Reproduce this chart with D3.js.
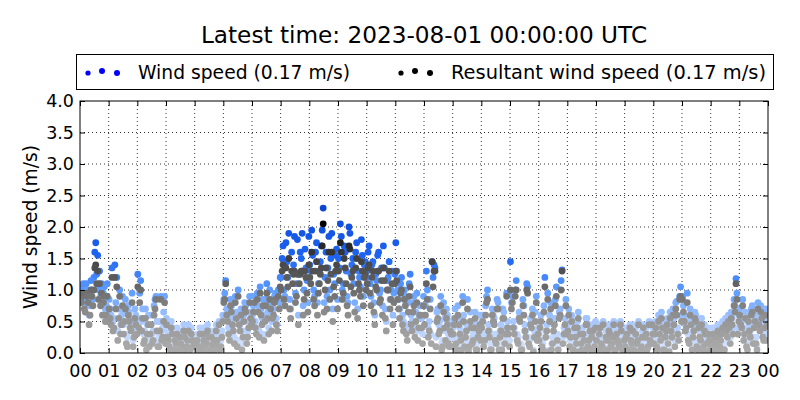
<!DOCTYPE html>
<html><head><meta charset="utf-8">
<script src="https://cdn.jsdelivr.net/npm/d3@7"></script>
<style>body{margin:0;background:#fff}svg{display:block}text{font-family:"DejaVu Sans",sans-serif}</style>
</head><body>
<svg id="c" width="800" height="400"></svg>
<script>
const titleText = "Latest time: 2023-08-01 00:00:00 UTC";
const seriesNames = ["Wind speed (0.17 m/s)", "Resultant wind speed (0.17 m/s)"];
const xTickLabels = ["00","01","02","03","04","05","06","07","08","09","10","11","12","13","14","15","16","17","18","19","20","21","22","23","00"];
const yTicks = [0,0.5,1.0,1.5,2.0,2.5,3.0,3.5,4.0];
const stepMinutes = 4;
// wind speed, samples at minute 0,4,8,... (15 per hour)
const windSpeed = [
0.95,1.05,0.85,1.1,0.9,0.75,1.0,1.2,1.75,1.55,1.3,1.1,0.95,0.7,1.1,
0.85,0.6,0.5,1.4,1.2,0.7,0.45,0.9,0.65,0.3,0.75,0.55,0.95,0.4,0.6,
1.25,0.95,0.5,0.3,0.7,0.45,0.2,0.6,0.35,0.85,0.5,0.25,0.9,0.4,0.9,
0.55,0.3,0.15,0.4,0.1,0.25,0.05,0.35,0.2,0.45,0.1,0.3,0.15,0.4,0.2,
0.15,0.3,0.05,0.2,0.4,0.1,0.25,0.35,0.05,0.15,0.3,0.45,0.2,0.1,0.35,
0.85,1.15,0.6,0.3,0.75,0.45,0.9,0.2,0.55,0.7,0.35,0.8,0.25,0.5,0.65,
0.6,0.9,0.4,0.75,1.05,0.55,0.3,0.85,0.65,1.0,0.5,0.7,0.95,0.45,0.8,
1.2,1.7,0.9,1.45,1.9,0.7,1.3,1.85,1.1,0.6,1.6,1.9,1.0,1.35,0.8,
1.4,1.95,1.0,1.6,0.8,1.3,1.7,2.3,1.2,0.9,1.85,1.5,0.7,1.1,1.65,
1.5,2.05,1.0,1.7,1.3,0.8,1.9,1.4,1.1,1.6,0.7,1.2,1.8,0.9,1.45,
1.3,1.7,0.9,1.45,0.6,1.15,1.6,1.0,0.75,1.35,0.5,1.2,0.85,1.3,0.95,
1.75,1.0,0.7,1.2,0.5,0.9,0.35,1.1,0.6,0.8,0.4,0.95,0.55,0.75,0.3,
0.6,1.3,0.4,0.85,1.45,1.4,0.25,0.7,0.5,0.15,0.8,0.35,0.6,0.2,0.45,
0.4,0.7,0.15,0.55,0.3,0.9,0.2,0.45,0.05,0.65,0.25,0.5,0.1,0.35,0.6,
0.5,0.2,0.75,1.0,0.35,0.1,0.6,0.3,0.85,0.15,0.45,0.7,0.25,0.95,0.4,
1.45,0.9,0.4,1.15,0.25,0.6,0.1,0.75,0.35,1.05,0.2,0.5,0.05,0.65,0.3,
0.3,0.6,0.15,1.2,0.45,0.05,0.8,0.25,0.55,1.05,0.1,0.7,1.32,0.4,0.85,
0.45,0.2,0.6,0.1,0.35,0.5,0.05,0.25,0.4,0.15,0.55,0.3,0.1,0.45,0.2,
0.3,0.1,0.45,0.2,0.05,0.35,0.15,0.4,0.25,0.5,0.1,0.3,0.2,0.45,0.05,
0.2,0.4,0.1,0.3,0.45,0.05,0.25,0.5,0.15,0.35,0.1,0.4,0.2,0.3,0.48,
0.25,0.5,0.1,0.4,0.65,0.15,0.35,0.55,0.05,0.45,0.7,0.2,0.82,0.3,1.05,
0.9,0.6,0.5,0.3,0.7,0.15,0.45,0.6,0.1,0.35,0.55,0.2,0.4,0.05,0.3,
0.2,0.4,0.1,0.35,0.05,0.3,0.5,0.15,0.45,0.6,0.25,0.55,0.85,1.18,0.4,
0.7,0.5,0.3,0.65,0.15,0.45,0.7,0.25,0.6,0.1,0.55,0.75,0.35,0.5,0.3
];
// wind speed, samples at minute 2,6,10,... (15 per hour)
const windSpeedOffset = [
0.9,1.1,0.8,1.0,0.6,1.15,0.85,1.6,1.25,1.0,0.9,0.8,1.05,0.75,0.65,
0.7,1.35,0.55,0.8,0.35,1.0,0.6,0.45,0.85,0.25,0.65,0.5,0.2,0.7,0.45,
0.55,1.15,0.7,0.35,0.15,0.6,0.45,0.3,0.75,0.9,0.2,0.5,0.35,0.65,0.25,
0.35,0.2,0.5,0.1,0.3,0.4,0.15,0.25,0.05,0.35,0.2,0.45,0.1,0.3,0.25,
0.25,0.1,0.4,0.2,0.3,0.05,0.45,0.15,0.35,0.25,0.1,0.3,0.5,0.2,0.6,
0.95,0.7,0.4,0.85,0.55,0.25,0.65,1.0,0.45,0.15,0.6,0.75,0.35,0.9,0.55,
0.75,0.5,0.95,0.35,0.7,0.85,0.6,1.1,0.4,0.8,0.65,0.9,0.55,1.0,1.2,
1.5,1.0,1.75,1.2,0.85,1.6,1.4,0.95,1.8,1.25,1.5,0.75,1.65,1.15,1.85,
1.3,1.55,0.9,1.75,1.1,1.45,1.95,0.8,1.6,1.35,1.0,1.9,1.25,1.55,0.85,
1.35,1.85,1.1,1.6,0.9,2.0,1.25,1.5,0.8,1.75,1.3,1.05,1.55,1.4,1.2,
1.6,1.1,1.4,0.8,1.25,1.55,0.95,1.35,1.7,0.7,1.15,1.45,1.0,0.6,1.25,
1.3,0.85,1.1,0.6,1.0,0.45,0.8,1.25,0.5,0.9,0.65,0.35,0.75,0.55,0.9,
0.75,1.0,0.5,0.3,1.2,1.35,0.65,0.45,0.9,0.2,0.55,0.7,0.3,0.5,0.25,
0.55,0.25,0.75,0.4,0.1,0.6,0.35,0.85,0.2,0.5,0.3,0.65,0.15,0.45,0.3,
0.6,0.3,0.9,0.45,0.15,0.7,0.55,0.25,0.8,0.35,0.1,0.65,0.4,0.5,0.2,
0.8,0.5,1.0,0.3,0.65,0.15,0.85,0.45,1.1,0.25,0.55,0.7,0.35,0.9,0.4,
0.5,0.2,0.75,0.35,0.95,0.6,0.15,0.45,0.85,0.3,0.65,1.15,0.25,0.55,0.4,
0.7,0.35,0.15,0.5,0.25,0.65,0.4,0.1,0.3,0.55,0.2,0.45,0.35,0.15,0.5,
0.15,0.4,0.25,0.5,0.1,0.3,0.45,0.2,0.35,0.05,0.4,0.25,0.5,0.15,0.3,
0.35,0.15,0.45,0.25,0.1,0.4,0.3,0.05,0.2,0.45,0.35,0.15,0.5,0.25,0.4,
0.4,0.2,0.6,0.3,0.5,0.1,0.45,0.25,0.65,0.35,0.55,0.8,0.4,0.9,0.6,
0.75,0.45,0.95,0.25,0.55,0.35,0.65,0.2,0.5,0.3,0.1,0.45,0.25,0.4,0.15,
0.3,0.15,0.25,0.45,0.2,0.4,0.1,0.55,0.35,0.5,0.65,0.4,0.75,0.95,0.6,
0.55,0.85,0.4,0.2,0.6,0.35,0.75,0.5,0.25,0.8,0.45,0.65,0.3,0.7,0.55
];
// resultant wind speed, samples at minute 0,4,8,...
const resultantSpeed = [
0.85,0.9,0.7,0.95,0.8,0.6,0.9,1.0,1.4,1.3,1.1,0.95,0.8,0.5,0.9,
0.7,0.45,0.35,1.2,1.05,0.55,0.3,0.75,0.5,0.15,0.6,0.4,0.8,0.25,0.45,
1.05,0.8,0.35,0.15,0.55,0.3,0.1,0.45,0.2,0.7,0.35,0.1,0.85,0.25,0.8,
0.45,0.2,0.05,0.3,0.05,0.15,0.02,0.25,0.1,0.35,0.05,0.2,0.08,0.3,0.1,
0.1,0.2,0.02,0.1,0.3,0.05,0.15,0.25,0.02,0.1,0.2,0.35,0.1,0.05,0.25,
0.8,1.1,0.5,0.2,0.65,0.35,0.8,0.1,0.45,0.6,0.25,0.7,0.15,0.4,0.55,
0.5,0.8,0.3,0.65,0.95,0.45,0.2,0.75,0.55,0.85,0.35,0.6,0.85,0.35,0.7,
1.0,1.4,0.75,1.2,1.5,0.55,1.1,1.3,0.9,0.45,1.25,1.3,0.85,1.2,0.65,
1.2,1.6,0.85,1.3,0.6,1.1,1.35,2.05,1.0,0.7,1.6,1.25,0.5,0.9,1.4,
1.3,1.75,0.85,1.5,1.1,0.6,1.65,1.2,0.95,1.35,0.55,1.0,1.45,0.75,1.25,
1.1,1.4,0.75,1.3,0.45,1.0,1.3,0.85,0.6,1.15,0.35,1.0,0.7,1.1,0.8,
1.3,0.85,0.55,1.0,0.35,0.75,0.2,0.9,0.45,0.65,0.25,0.8,0.4,0.6,0.15,
0.45,1.1,0.25,0.7,1.45,1.3,0.1,0.55,0.35,0.05,0.65,0.2,0.45,0.1,0.3,
0.3,0.55,0.05,0.45,0.2,0.8,0.1,0.35,0.02,0.5,0.15,0.4,0.05,0.25,0.45,
0.4,0.1,0.6,0.85,0.25,0.05,0.5,0.2,0.7,0.05,0.35,0.55,0.15,0.9,0.3,
1.0,0.8,0.3,1.0,0.15,0.5,0.05,0.6,0.25,0.95,0.1,0.4,0.02,0.5,0.2,
0.2,0.5,0.05,1.05,0.35,0.02,0.7,0.15,0.45,0.9,0.05,0.6,1.3,0.3,0.75,
0.35,0.1,0.5,0.05,0.25,0.4,0.02,0.15,0.3,0.05,0.45,0.2,0.05,0.35,0.1,
0.2,0.05,0.4,0.1,0.02,0.25,0.05,0.3,0.15,0.45,0.05,0.2,0.1,0.35,0.02,
0.1,0.3,0.05,0.2,0.35,0.02,0.15,0.45,0.05,0.25,0.05,0.3,0.1,0.2,0.45,
0.15,0.4,0.05,0.3,0.55,0.05,0.25,0.45,0.02,0.35,0.6,0.1,0.6,0.2,0.9,
0.85,0.5,0.4,0.2,0.6,0.05,0.35,0.5,0.05,0.25,0.45,0.1,0.3,0.02,0.2,
0.1,0.3,0.05,0.25,0.02,0.2,0.4,0.05,0.35,0.5,0.15,0.45,0.75,1.1,0.3,
0.6,0.4,0.2,0.55,0.05,0.35,0.6,0.15,0.5,0.05,0.45,0.65,0.25,0.4,0.2
];
// resultant wind speed, samples at minute 2,6,10,...
const resultantSpeedOffset = [
0.8,0.95,0.65,0.9,0.45,1.0,0.75,1.35,1.1,0.85,0.75,0.6,0.9,0.6,0.5,
0.55,1.2,0.4,0.7,0.2,0.9,0.45,0.3,0.7,0.1,0.5,0.35,0.1,0.55,0.3,
0.4,1.0,0.55,0.2,0.05,0.45,0.3,0.15,0.6,0.85,0.1,0.35,0.2,0.5,0.15,
0.25,0.1,0.4,0.05,0.2,0.3,0.05,0.15,0.02,0.25,0.1,0.35,0.05,0.2,0.15,
0.15,0.05,0.3,0.1,0.2,0.02,0.35,0.05,0.25,0.15,0.05,0.2,0.45,0.1,0.5,
0.85,0.6,0.3,0.75,0.45,0.15,0.55,0.9,0.35,0.05,0.5,0.65,0.25,0.8,0.45,
0.65,0.4,0.85,0.25,0.6,0.75,0.5,0.95,0.3,0.7,0.55,0.8,0.45,0.9,1.05,
1.3,0.85,1.35,1.05,0.7,1.3,1.25,0.8,1.25,1.1,1.3,0.6,1.3,0.95,1.4,
1.1,1.3,0.75,1.45,0.95,1.25,1.7,0.65,1.35,1.15,0.85,1.6,1.05,1.3,0.7,
1.15,1.6,0.95,1.35,0.75,1.7,1.05,1.3,0.65,1.5,1.1,0.9,1.3,1.2,1.0,
1.35,0.95,1.2,0.65,1.05,1.3,0.8,1.15,1.35,0.55,1.0,1.3,0.85,0.45,1.1,
1.15,0.7,0.95,0.45,0.85,0.3,0.65,1.05,0.35,0.75,0.5,0.2,0.6,0.4,0.75,
0.6,0.85,0.35,0.15,1.05,1.3,0.5,0.3,0.75,0.1,0.4,0.55,0.15,0.35,0.1,
0.45,0.15,0.6,0.3,0.05,0.5,0.25,0.7,0.1,0.4,0.2,0.55,0.05,0.35,0.2,
0.5,0.2,0.8,0.35,0.05,0.6,0.45,0.15,0.7,0.25,0.05,0.55,0.3,0.4,0.1,
0.7,0.4,0.9,0.2,0.55,0.05,0.75,0.35,1.0,0.15,0.45,0.6,0.25,0.8,0.3,
0.4,0.1,0.65,0.25,0.85,0.5,0.05,0.35,0.75,0.2,0.55,1.0,0.15,0.45,0.3,
0.6,0.25,0.05,0.4,0.15,0.55,0.3,0.05,0.2,0.45,0.1,0.35,0.25,0.05,0.4,
0.05,0.3,0.15,0.45,0.05,0.2,0.35,0.1,0.25,0.02,0.3,0.15,0.45,0.05,0.2,
0.25,0.05,0.4,0.15,0.05,0.3,0.2,0.02,0.1,0.4,0.25,0.05,0.45,0.15,0.3,
0.3,0.1,0.5,0.2,0.4,0.05,0.35,0.15,0.55,0.25,0.45,0.7,0.3,0.85,0.5,
0.65,0.35,0.8,0.15,0.45,0.25,0.55,0.1,0.4,0.2,0.05,0.35,0.15,0.3,0.05,
0.2,0.05,0.15,0.35,0.1,0.3,0.05,0.45,0.25,0.4,0.55,0.3,0.65,0.85,0.5,
0.45,0.75,0.3,0.1,0.5,0.25,0.65,0.4,0.15,0.7,0.35,0.55,0.2,0.6,0.45
];

const svg = d3.select("#c");
const m = {l:80, r:768, t:101, b:353};
const x = d3.scaleLinear().domain([0, 1440]).range([m.l, m.r]);
const y = d3.scaleLinear().domain([0, 4]).range([m.b, m.t]);
const blueColor = d3.scaleLinear().domain([0,0.5,1.0,1.5,2.3]).range(["#dce8ff","#a9c8ff","#5e9cff","#1f66f2","#0a45d6"]);
const greyColor = d3.scaleLinear().domain([0,0.5,1.0,1.5,2.05]).range(["#acacac","#979797","#6b6b6b","#404040","#000000"]);

// title
svg.append("text").attr("x", (m.l+m.r)/2).attr("y", 43).attr("text-anchor","middle")
  .attr("font-size", 23.2).text(titleText);

// grid
const grid = svg.append("g").attr("stroke","#000").attr("stroke-width",0.8).attr("stroke-dasharray","1,3");
xTickLabels.forEach((lab,i)=>{ if(i>0 && i<24) grid.append("line").attr("x1",x(i*60)).attr("x2",x(i*60)).attr("y1",m.t).attr("y2",m.b); });
yTicks.forEach(v=>{ if(v>0 && v<4) grid.append("line").attr("x1",m.l).attr("x2",m.r).attr("y1",y(v)).attr("y2",y(v)); });

// points
svg.append("clipPath").attr("id","clp").append("rect").attr("x",m.l).attr("y",m.t).attr("width",m.r-m.l).attr("height",m.b-m.t);
const pts = svg.append("g").attr("clip-path","url(#clp)");
const wsPts = windSpeed.map((v,i)=>({t:i*stepMinutes+1, v})).concat(windSpeedOffset.map((v,i)=>({t:i*stepMinutes+3, v})));
const rsPts = resultantSpeed.map((v,i)=>({t:i*stepMinutes+1, v})).concat(resultantSpeedOffset.map((v,i)=>({t:i*stepMinutes+3, v})));
pts.selectAll("circle.ws").data(wsPts).join("circle").attr("class","ws")
  .attr("cx",d=>x(d.t)).attr("cy",d=>y(d.v)).attr("r",3.4).attr("fill",d=>blueColor(d.v));
pts.selectAll("circle.rs").data(rsPts).join("circle").attr("class","rs")
  .attr("cx",d=>x(d.t)).attr("cy",d=>y(d.v)).attr("r",3.4).attr("fill",d=>greyColor(d.v));

// axes (ticks inside, all four sides)
const xt = d3.range(25).map(i=>i*60);
const fmtX = (d,i)=>xTickLabels[i];
svg.append("g").attr("transform",`translate(0,${m.b})`).call(d3.axisBottom(x).tickValues(xt).tickFormat(fmtX).tickSizeInner(-5).tickSizeOuter(0).tickPadding(12))
  .call(g=>{g.select(".domain").remove(); g.selectAll("text").attr("font-size",17.5).attr("font-family","DejaVu Sans").attr("fill","#000");});
svg.append("g").attr("transform",`translate(0,${m.t})`).call(d3.axisTop(x).tickValues(xt).tickFormat("").tickSizeInner(-5).tickSizeOuter(0))
  .call(g=>g.select(".domain").remove());
svg.append("g").attr("transform",`translate(${m.l},0)`).call(d3.axisLeft(y).tickValues(yTicks).tickFormat(d3.format(".1f")).tickSizeInner(-5).tickSizeOuter(0).tickPadding(6))
  .call(g=>{g.select(".domain").remove(); g.selectAll("text").attr("font-size",17.5).attr("font-family","DejaVu Sans").attr("fill","#000");});
svg.append("g").attr("transform",`translate(${m.r},0)`).call(d3.axisRight(y).tickValues(yTicks).tickFormat("").tickSizeInner(-5).tickSizeOuter(0))
  .call(g=>g.select(".domain").remove());
svg.append("rect").attr("x",m.l).attr("y",m.t).attr("width",m.r-m.l).attr("height",m.b-m.t).attr("fill","none").attr("stroke","#000").attr("stroke-width",1);

// y label
svg.append("text").attr("transform",`translate(37,${(m.t+m.b)/2}) rotate(-90)`).attr("text-anchor","middle").attr("font-size",18.7).text("Wind speed (m/s)");

// legend
const lg = svg.append("g");
lg.append("rect").attr("x",76.5).attr("y",54.5).attr("width",697).attr("height",35).attr("fill","#fff").attr("stroke","#000").attr("stroke-width",1);
const legendItems = [{name:seriesNames[0], color:"#0000ff", x0:88, tx:138, w:212},{name:seriesNames[1], color:"#000000", x0:401, tx:451, w:315}];
legendItems.forEach(it=>{
  [[0,2.6,73],[14,3.0,71],[29,3.0,73]].forEach(([dx,r,cy])=>lg.append("circle").attr("cx",it.x0+dx).attr("cy",cy).attr("r",r).attr("fill",it.color));
  lg.append("text").attr("x",it.tx).attr("y",78.5).attr("font-size",19.2).attr("textLength",it.w).attr("lengthAdjust","spacingAndGlyphs").text(it.name);
});
</script>
</body></html>
